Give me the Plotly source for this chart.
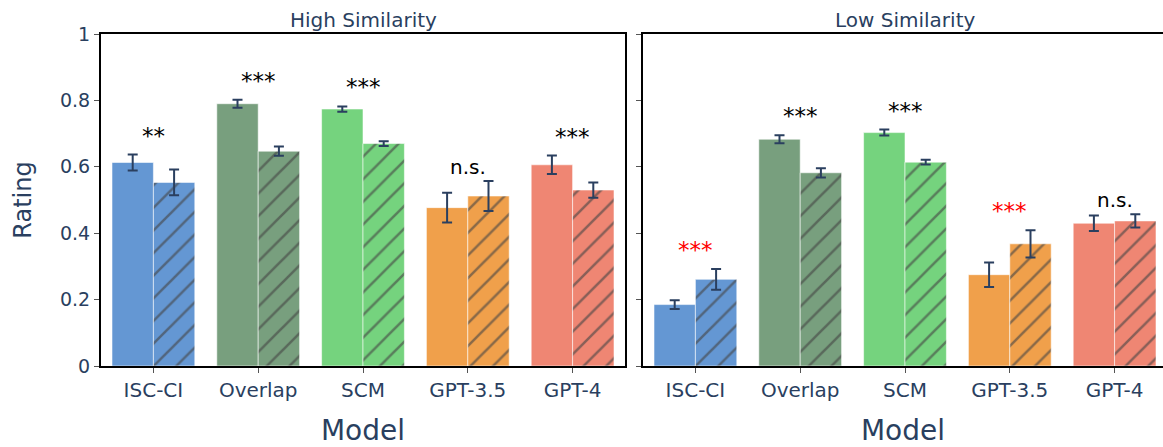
import plotly.graph_objects as go

models = ["ISC-CI", "Overlap", "SCM", "GPT-3.5", "GPT-4"]
colors = ["#6497d3", "#789f7e", "#75d37e", "#f0a04b", "#ef8673"]

high_solid = [0.613, 0.790, 0.774, 0.477, 0.606]
high_solid_err = [0.024, 0.012, 0.008, 0.045, 0.028]
high_hatch = [0.553, 0.647, 0.670, 0.512, 0.530]
high_hatch_err = [0.039, 0.014, 0.007, 0.045, 0.023]
high_sig = ["**", "***", "***", "n.s.", "***"]
high_sig_color = ["black", "black", "black", "black", "black"]

low_solid = [0.185, 0.683, 0.703, 0.275, 0.430]
low_solid_err = [0.013, 0.012, 0.009, 0.037, 0.023]
low_hatch = [0.261, 0.582, 0.614, 0.368, 0.437]
low_hatch_err = [0.031, 0.014, 0.007, 0.041, 0.020]
low_sig = ["***", "***", "***", "***", "n.s."]
low_sig_color = ["red", "black", "black", "red", "black"]

panel_titles = ["High Similarity", "Low Similarity"]

FONT = "DejaVu Sans"
TXT = "#2a3f5f"
W, H = 1163, 447
ML, MR, MT, MB = 101, 0, 34, 81
plot_w = W - ML - MR
left_px = 524
gap_px = 18
right_px = plot_w - left_px - gap_px

fig = go.Figure()

err_style = dict(type="data", color=TXT, thickness=2, width=5, visible=True)
line_style = dict(color="rgba(255,255,255,0.55)", width=1)

panels = [
    (high_solid, high_solid_err, high_hatch, high_hatch_err, high_sig, high_sig_color, "x", "y"),
    (low_solid, low_solid_err, low_hatch, low_hatch_err, low_sig, low_sig_color, "x2", "y2"),
]

for solid, solid_err, hatch, hatch_err, sig, sig_col, xa, ya in panels:
    fig.add_trace(go.Bar(
        x=models, y=solid, xaxis=xa, yaxis=ya,
        marker=dict(color=colors, line=line_style),
        error_y=dict(array=solid_err, **err_style),
        offsetgroup="a", showlegend=False,
    ))
    fig.add_trace(go.Bar(
        x=models, y=hatch, xaxis=xa, yaxis=ya,
        marker=dict(color=colors, line=line_style,
                    pattern=dict(shape="/", fgcolor="#3a3a3a", fgopacity=0.6,
                                 size=16, solidity=0.16)),
        error_y=dict(array=hatch_err, **err_style),
        offsetgroup="b", showlegend=False,
    ))
    for i, m in enumerate(models):
        top = max(solid[i] + solid_err[i], hatch[i] + hatch_err[i])
        is_star = sig[i].startswith("*")
        fig.add_annotation(
            x=m, y=top + 0.042, xref=xa, yref=ya, text=sig[i],
            showarrow=False, xanchor="center", yanchor="middle",
            yshift=5 if is_star else 0,
            font=dict(family=FONT, size=23 if is_star else 20, color=sig_col[i]),
        )

dom_left = [0, left_px / plot_w]
dom_right = [(left_px + gap_px) / plot_w, 1]
right_range_end = -0.5 + 5 * right_px / left_px

axis_common = dict(
    showline=True, linecolor="black", linewidth=2,
    ticks="outside", ticklen=5, tickcolor="#555", tickwidth=1,
    showgrid=False, zeroline=False,
)
xtick_font = dict(family=FONT, size=20, color=TXT)
ytick_font = dict(family=FONT, size=19, color=TXT)

fig.update_layout(
    width=W, height=H,
    margin=dict(l=ML, r=MR, t=MT, b=MB),
    paper_bgcolor="white", plot_bgcolor="white",
    barmode="group", bargap=0.21, bargroupgap=0,
    font=dict(family=FONT, color=TXT),
    xaxis=dict(domain=dom_left, range=[-0.5, 4.5], anchor="y", mirror=True,
               tickfont=xtick_font,
               title=dict(text="Model", font=dict(family=FONT, size=28, color=TXT), standoff=21),
               automargin=False, **axis_common),
    yaxis=dict(domain=[0, 1], range=[0, 1], anchor="x", mirror=True,
               tickvals=[0, 0.2, 0.4, 0.6, 0.8, 1], tickfont=ytick_font,
               title=dict(text="Rating", font=dict(family=FONT, size=24, color=TXT), standoff=22),
               automargin=False, **axis_common),
    xaxis2=dict(domain=dom_right, range=[-0.5, right_range_end], anchor="y2", mirror=True,
                tickfont=xtick_font,
                title=dict(text="Model", font=dict(family=FONT, size=28, color=TXT), standoff=21),
                automargin=False, **axis_common),
    yaxis2=dict(domain=[0, 1], range=[0, 1], anchor="x2", mirror=False,
                tickvals=[0, 0.2, 0.4, 0.6, 0.8, 1], showticklabels=False,
                automargin=False, **axis_common),
)

for t, dom in zip(panel_titles, [dom_left, [dom_right[0], dom_right[0] + left_px / plot_w]]):
    fig.add_annotation(
        x=(dom[0] + dom[1]) / 2, y=1, xref="paper", yref="paper",
        text=t, showarrow=False, xanchor="center", yanchor="bottom", yshift=0,
        font=dict(family=FONT, size=20, color=TXT),
    )

fig.write_html("out.html")
